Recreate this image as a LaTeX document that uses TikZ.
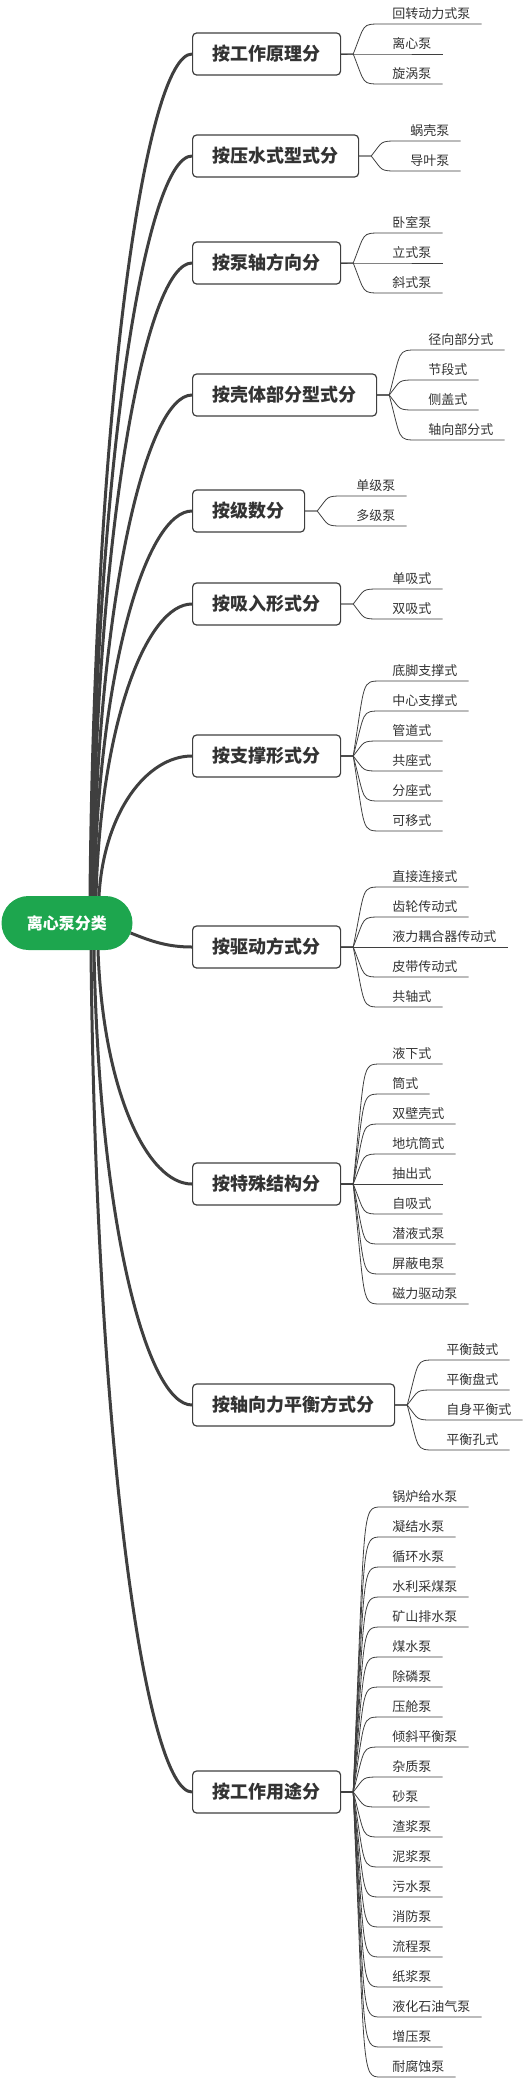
\documentclass[tikz,border=0pt]{standalone}
\usepackage{fontspec}
\usepackage{xcolor}
\usepackage{tikz}
\usetikzlibrary{positioning,calc}
\newfontfamily\cjk{Noto Sans CJK SC}
\definecolor{rootgreen}{HTML}{1DA64E}
\definecolor{ink}{HTML}{333333}
\definecolor{wire}{HTML}{3F3F3F}

\begin{document}
\begin{tikzpicture}[
    x=1pt, y=1pt,
    root/.style={rectangle, rounded corners=27pt, fill=rootgreen, text=white, font=\cjk\bfseries\fontsize{16}{18}\selectfont, minimum width=131pt, minimum height=54pt},
    box/.style={rectangle, draw=wire, line width=1.2pt, rounded corners=4pt, fill=white, text=ink, font=\cjk\bfseries\fontsize{18}{20}\selectfont, inner xsep=20pt, minimum height=42pt, anchor=west},
    leaf/.style={font=\cjk\fontsize{13}{15}\selectfont, text=ink, inner xsep=11pt, inner ysep=4pt, anchor=south west},
    trunk/.style={draw=wire, line width=3pt},
    twig/.style={draw=wire, line width=0.8pt}
]
    \useasboundingbox (0,0) rectangle (530,-2078);

    \node[root] (root) at (67,-923) {离心泵分类};

    \node[box] (b1) at (192,-54) {按工作原理分};
    \node[box] (b2) at (192,-156) {按压水式型式分};
    \node[box] (b3) at (192,-263) {按泵轴方向分};
    \node[box] (b4) at (192,-395) {按壳体部分型式分};
    \node[box] (b5) at (192,-511) {按级数分};
    \node[box] (b6) at (192,-604) {按吸入形式分};
    \node[box] (b7) at (192,-756) {按支撑形式分};
    \node[box] (b8) at (192,-947) {按驱动方式分};
    \node[box] (b9) at (192,-1184) {按特殊结构分};
    \node[box] (b10) at (192,-1405) {按轴向力平衡方式分};
    \node[box] (b11) at (192,-1792) {按工作用途分};

    % root to categories
    \draw[trunk] ([xshift=23pt]root.north) .. controls +(5,505) and +(-45,0) .. (b1.west);
    \draw[trunk] ([xshift=24pt]root.north) .. controls +(5,444) and +(-45,0) .. (b2.west);
    \draw[trunk] ([xshift=25pt]root.north) .. controls +(5,380) and +(-45,0) .. (b3.west);
    \draw[trunk] ([xshift=26pt]root.north) .. controls +(5,301) and +(-45,0) .. (b4.west);
    \draw[trunk] ([xshift=27pt]root.north) .. controls +(5,231) and +(-45,0) .. (b5.west);
    \draw[trunk] ([xshift=29pt]root.north) .. controls +(5,175) and +(-45,0) .. (b6.west);
    \draw[trunk] ([xshift=32pt]root.north) .. controls +(5,84) and +(-45,0) .. (b7.west);
    \draw[trunk] ([shift={(-2pt,-10pt)}]root.east) .. controls +(20,-8) and +(-25,0) .. (b8.west);
    \draw[trunk] ([xshift=31pt]root.south) .. controls +(5,-140) and +(-45,0) .. (b9.west);
    \draw[trunk] ([xshift=27pt]root.south) .. controls +(5,-273) and +(-45,0) .. (b10.west);
    \draw[trunk] ([xshift=24pt]root.south) .. controls +(5,-505) and +(-45,0) .. (b11.west);

    % categories to pump types
    \foreach \t [count=\i] in {回转动力式泵,离心泵,旋涡泵} {
        \node[leaf] (p1-\i) at ($(b1.east)+(40,{(2-\i)*30})$) {\t};
        \draw[twig] (b1.east) -- ++(12,0) .. controls ($(b1.east |- p1-\i.south west)+(24,0)$) and +(-20,0) .. (p1-\i.south west) -- (p1-\i.south east);
    }
    \foreach \t [count=\i] in {蜗壳泵,导叶泵} {
        \node[leaf] (p2-\i) at ($(b2.east)+(40,{(1.5-\i)*30})$) {\t};
        \draw[twig] (b2.east) -- ++(12,0) .. controls ($(b2.east |- p2-\i.south west)+(24,0)$) and +(-20,0) .. (p2-\i.south west) -- (p2-\i.south east);
    }
    \foreach \t [count=\i] in {卧室泵,立式泵,斜式泵} {
        \node[leaf] (p3-\i) at ($(b3.east)+(40,{(2-\i)*30})$) {\t};
        \draw[twig] (b3.east) -- ++(12,0) .. controls ($(b3.east |- p3-\i.south west)+(24,0)$) and +(-20,0) .. (p3-\i.south west) -- (p3-\i.south east);
    }
    \foreach \t [count=\i] in {径向部分式,节段式,侧盖式,轴向部分式} {
        \node[leaf] (p4-\i) at ($(b4.east)+(40,{(2.5-\i)*30})$) {\t};
        \draw[twig] (b4.east) -- ++(12,0) .. controls ($(b4.east |- p4-\i.south west)+(24,0)$) and +(-20,0) .. (p4-\i.south west) -- (p4-\i.south east);
    }
    \foreach \t [count=\i] in {单级泵,多级泵} {
        \node[leaf] (p5-\i) at ($(b5.east)+(40,{(1.5-\i)*30})$) {\t};
        \draw[twig] (b5.east) -- ++(12,0) .. controls ($(b5.east |- p5-\i.south west)+(24,0)$) and +(-20,0) .. (p5-\i.south west) -- (p5-\i.south east);
    }
    \foreach \t [count=\i] in {单吸式,双吸式} {
        \node[leaf] (p6-\i) at ($(b6.east)+(40,{(1.5-\i)*30})$) {\t};
        \draw[twig] (b6.east) -- ++(12,0) .. controls ($(b6.east |- p6-\i.south west)+(24,0)$) and +(-20,0) .. (p6-\i.south west) -- (p6-\i.south east);
    }
    \foreach \t [count=\i] in {底脚支撑式,中心支撑式,管道式,共座式,分座式,可移式} {
        \node[leaf] (p7-\i) at ($(b7.east)+(40,{(3.5-\i)*30})$) {\t};
        \draw[twig] (b7.east) -- ++(12,0) .. controls ($(b7.east |- p7-\i.south west)+(24,0)$) and +(-20,0) .. (p7-\i.south west) -- (p7-\i.south east);
    }
    \foreach \t [count=\i] in {直接连接式,齿轮传动式,液力耦合器传动式,皮带传动式,共轴式} {
        \node[leaf] (p8-\i) at ($(b8.east)+(40,{(3-\i)*30})$) {\t};
        \draw[twig] (b8.east) -- ++(12,0) .. controls ($(b8.east |- p8-\i.south west)+(24,0)$) and +(-20,0) .. (p8-\i.south west) -- (p8-\i.south east);
    }
    \foreach \t [count=\i] in {液下式,筒式,双壁壳式,地坑筒式,抽出式,自吸式,潜液式泵,屏蔽电泵,磁力驱动泵} {
        \node[leaf] (p9-\i) at ($(b9.east)+(40,{(5-\i)*30})$) {\t};
        \draw[twig] (b9.east) -- ++(12,0) .. controls ($(b9.east |- p9-\i.south west)+(24,0)$) and +(-20,0) .. (p9-\i.south west) -- (p9-\i.south east);
    }
    \foreach \t [count=\i] in {平衡鼓式,平衡盘式,自身平衡式,平衡孔式} {
        \node[leaf] (p10-\i) at ($(b10.east)+(40,{(2.5-\i)*30})$) {\t};
        \draw[twig] (b10.east) -- ++(12,0) .. controls ($(b10.east |- p10-\i.south west)+(24,0)$) and +(-20,0) .. (p10-\i.south west) -- (p10-\i.south east);
    }
    \foreach \t [count=\i] in {锅炉给水泵,凝结水泵,循环水泵,水利采煤泵,矿山排水泵,煤水泵,除磷泵,压舱泵,倾斜平衡泵,杂质泵,砂泵,渣浆泵,泥浆泵,污水泵,消防泵,流程泵,纸浆泵,液化石油气泵,增压泵,耐腐蚀泵} {
        \node[leaf] (p11-\i) at ($(b11.east)+(40,{(10.5-\i)*30})$) {\t};
        \draw[twig] (b11.east) -- ++(12,0) .. controls ($(b11.east |- p11-\i.south west)+(24,0)$) and +(-20,0) .. (p11-\i.south west) -- (p11-\i.south east);
    }
\end{tikzpicture}
\end{document}
